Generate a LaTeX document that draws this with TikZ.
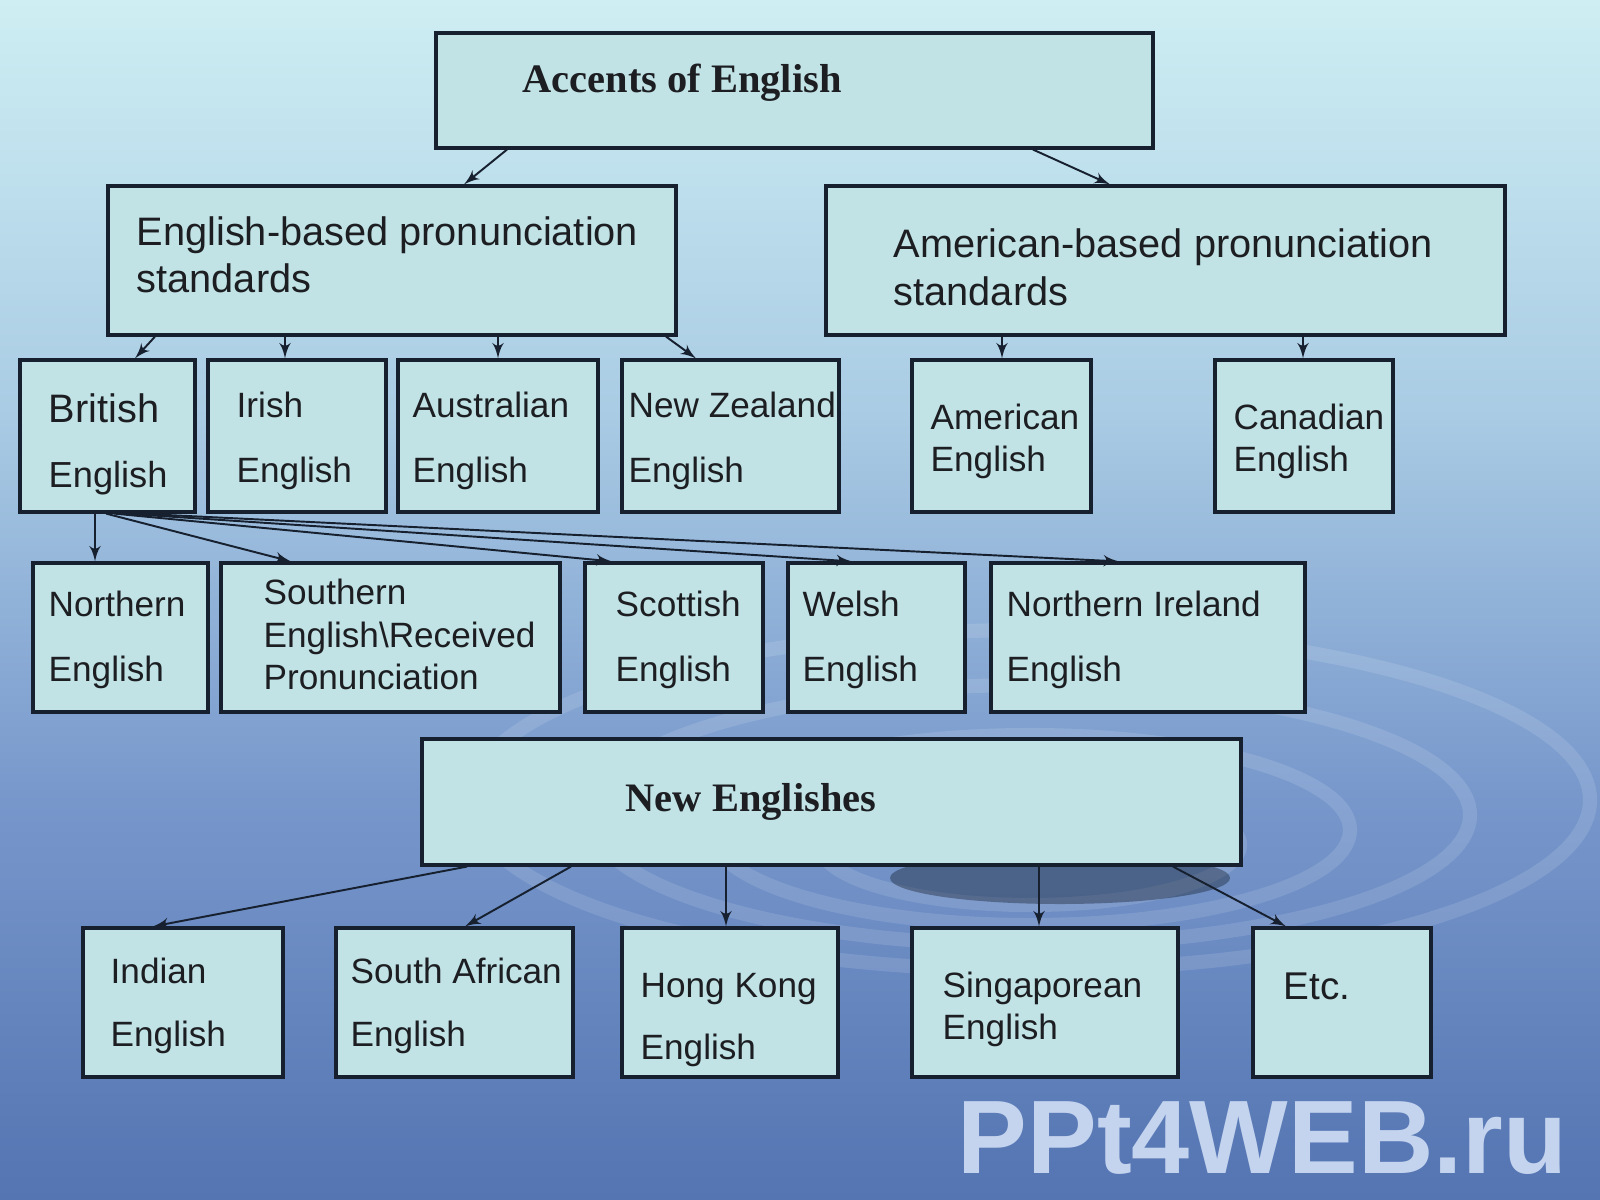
\documentclass[tikz,border=0pt]{standalone}
\usepackage{fontspec}
\setmainfont{Liberation Sans}
\newfontfamily\titlefont{Liberation Serif}
\usetikzlibrary{arrows,fit}

\definecolor{boxfill}{RGB}{193,227,230}
\definecolor{boxline}{RGB}{22,32,46}
\definecolor{txtcol}{RGB}{28,30,34}
\definecolor{bgtop}{RGB}{206,238,243}
\definecolor{bgmid}{RGB}{170,204,228}
\definecolor{bglow}{RGB}{120,152,204}
\definecolor{bgbot}{RGB}{84,116,178}
\definecolor{wmcol}{RGB}{196,212,238}
\pgfdeclareverticalshading{waterbg}{100bp}{color(0bp)=(bgbot); color(25bp)=(bgbot); color(42bp)=(bglow); color(58bp)=(bgmid); color(75bp)=(bgtop); color(100bp)=(bgtop)}

\tikzset{
  box/.style={draw=boxline, fill=boxfill, line width=0.9pt, inner sep=0pt},
  txt/.style={anchor=base west, inner sep=0pt, text=txtcol, font=\fontsize{10pt}{12pt}\selectfont},
  bigtxt/.style={txt, font=\fontsize{11.3pt}{13pt}\selectfont},
  head/.style={txt, anchor=base, font=\titlefont\bfseries\fontsize{11.5pt}{13pt}\selectfont},
  link/.style={->, draw=boxline, line width=0.55pt},
  wmark/.style={anchor=base west, inner sep=0pt, text=wmcol, font=\bfseries\fontsize{29.7pt}{32pt}\selectfont}
}

\begin{document}
\begin{tikzpicture}[x=0.01cm,y=-0.01cm,>=latex']
%% background
\useasboundingbox (0,0) rectangle (1600,1200);
\shade[shading=waterbg] (0,0) rectangle (1600,1200);
\begin{scope}[white, opacity=0.12, line width=4pt]
  \draw (1030,800) ellipse (560 and 170);
  \draw (1030,815) ellipse (440 and 130);
  \draw (1030,830) ellipse (320 and 95);
  \draw (1030,845) ellipse (210 and 60);
\end{scope}
\fill[boxline, opacity=0.4] (1060,878) ellipse (170 and 26);
%% boxes
  \node (top) [box, fit={(436,33) (1153,148)}] {};
  \node (engb) [box, fit={(108,186) (676,335)}] {};
  \node (amb) [box, fit={(826,186) (1505,335)}] {};
  \node (brit) [box, fit={(20,360) (195,512)}] {};
  \node (irish) [box, fit={(208,360) (386,512)}] {};
  \node (aus) [box, fit={(398,360) (598,512)}] {};
  \node (nz) [box, fit={(622,360) (839,512)}] {};
  \node (amer) [box, fit={(912,360) (1091,512)}] {};
  \node (can) [box, fit={(1215,360) (1393,512)}] {};
  \node (north) [box, fit={(33,563) (208,712)}] {};
  \node (south) [box, fit={(221,563) (560,712)}] {};
  \node (scot) [box, fit={(585,563) (763,712)}] {};
  \node (welsh) [box, fit={(788,563) (965,712)}] {};
  \node (nire) [box, fit={(991,563) (1305,712)}] {};
  \node (neweng) [box, fit={(422,739) (1241,865)}] {};
  \node (indian) [box, fit={(83,928) (283,1077)}] {};
  \node (safr) [box, fit={(336,928) (573,1077)}] {};
  \node (hk) [box, fit={(622,928) (838,1077)}] {};
  \node (sing) [box, fit={(912,928) (1178,1077)}] {};
  \node (etc) [box, fit={(1253,928) (1431,1077)}] {};
%% texts
  \node (topT) at (682,92) [head] {Accents of English};
  \node (engbA) at (136,245) [bigtxt] {English-based pronunciation};
  \node (engbB) at (136,292) [bigtxt] {standards};
  \node (ambA) at (893,257) [bigtxt] {American-based pronunciation};
  \node (ambB) at (893,305) [bigtxt] {standards};
  \node (britA) at (48,422) [bigtxt] {British};
  \node (britB) at (48,487) [txt, font=\fontsize{10.3pt}{12pt}\selectfont] {English};
  \node (irishA) at (236,417) [txt] {Irish};
  \node (irishB) at (236,482) [txt] {English};
  \node (ausA) at (412,417) [txt] {Australian};
  \node (ausB) at (412,482) [txt] {English};
  \node (nzA) at (628,417) [txt] {New Zealand};
  \node (nzB) at (628,482) [txt] {English};
  \node (amerA) at (930,429) [txt] {American};
  \node (amerB) at (930,471) [txt] {English};
  \node (canA) at (1233,429) [txt] {Canadian};
  \node (canB) at (1233,471) [txt] {English};
  \node (northA) at (48,616) [txt] {Northern};
  \node (northB) at (48,681) [txt] {English};
  \node (southA) at (263,604) [txt] {Southern};
  \node (southB) at (263,647) [txt] {English\textbackslash Received};
  \node (southC) at (263,689) [txt] {Pronunciation};
  \node (scotA) at (615,616) [txt] {Scottish};
  \node (scotB) at (615,681) [txt] {English};
  \node (welshA) at (802,616) [txt] {Welsh};
  \node (welshB) at (802,681) [txt] {English};
  \node (nireA) at (1006,616) [txt] {Northern Ireland};
  \node (nireB) at (1006,681) [txt] {English};
  \node (newengT) at (751,811) [head] {New Englishes};
  \node (indianA) at (110,983) [txt] {Indian};
  \node (indianB) at (110,1046) [txt] {English};
  \node (safrA) at (350,983) [txt] {South African};
  \node (safrB) at (350,1046) [txt] {English};
  \node (hkA) at (640,997) [txt] {Hong Kong};
  \node (hkB) at (640,1059) [txt] {English};
  \node (singA) at (942,997) [txt] {Singaporean};
  \node (singB) at (942,1039) [txt] {English};
  \node (etcT) at (1283,999) [txt, font=\fontsize{11pt}{13pt}\selectfont] {Etc.};
  \node (wm) at (957,1173) [wmark] {PPt4WEB.ru};
%% connectors
  \draw [link] (top.south -| 507,0) -- (engb.north -| 464,0);
  \draw [link] (top.south -| 1033,0) -- (amb.north -| 1110,0);
  \draw [link] (engb.south -| 155,0) -- (brit.north -| 135,0);
  \draw [link] (engb.south -| 285,0) -- (irish.north -| 285,0);
  \draw [link] (engb.south -| 498,0) -- (aus.north -| 498,0);
  \draw [link] (engb.south -| 666,0) -- (nz.north -| 696,0);
  \draw [link] (amb.south -| 1002,0) -- (amer.north -| 1002,0);
  \draw [link] (amb.south -| 1303,0) -- (can.north -| 1303,0);
  \draw [link] (brit.south -| 95,0) -- (north.north -| 95,0);
  \draw [link] (brit.south -| 106,0) -- (south.north -| 291,0);
  \draw [link] (brit.south -| 114,0) -- (scot.north -| 612,0);
  \draw [link] (brit.south -| 124,0) -- (welsh.north -| 852,0);
  \draw [link] (brit.south -| 138,0) -- (nire.north -| 1119,0);
  \draw [link] (neweng.south -| 467,0) -- (indian.north -| 153,0);
  \draw [link] (neweng.south -| 571,0) -- (safr.north -| 465,0);
  \draw [link] (neweng.south -| 726,0) -- (hk.north -| 726,0);
  \draw [link] (neweng.south -| 1039,0) -- (sing.north -| 1039,0);
  \draw [link] (neweng.south -| 1173,0) -- (etc.north -| 1286,0);
%
\end{tikzpicture}
\end{document}
